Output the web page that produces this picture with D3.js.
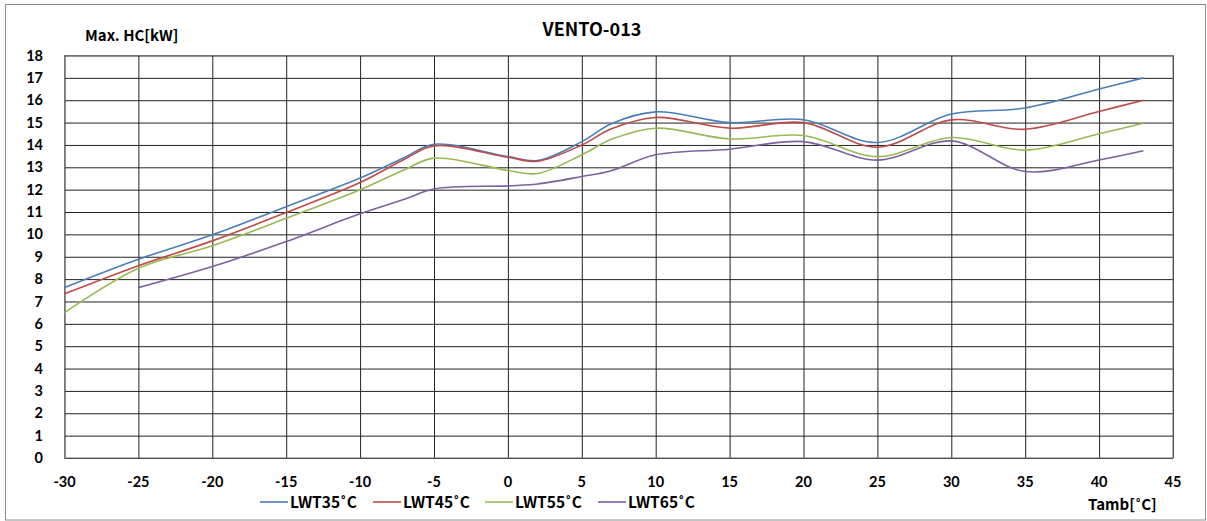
<!DOCTYPE html>
<html>
<head>
<meta charset="utf-8">
<script src="https://cdn.jsdelivr.net/npm/d3@7"></script>
<style>
  body { margin: 0; background: #fff; }
</style>
</head>
<body>
<div id="chart"></div>
<script>
const W = 1207, H = 521

// ambient temperature (x) and max heating capacity per leaving water temp
const tamb = [-30, -25, -20, -15, -10, -7, -5, 0, 2, 5, 7, 10, 15, 20, 25, 30, 35, 40, 43]
const lwt35 = [7.62, 8.89, 9.98, 11.24, 12.52, 13.44, 14.03, 13.48, 13.3, 14.15, 14.95, 15.48, 15.0, 15.13, 14.11, 15.38, 15.65, 16.5, 17.0]
const lwt45 = [7.34, 8.6, 9.71, 10.98, 12.32, 13.36, 13.96, 13.45, 13.27, 14.0, 14.72, 15.23, 14.75, 15.0, 13.9, 15.12, 14.7, 15.5, 16.0]
const lwt55 = [6.5, 8.49, 9.49, 10.72, 12.0, 12.89, 13.41, 12.86, 12.72, 13.56, 14.25, 14.75, 14.27, 14.42, 13.48, 14.33, 13.77, 14.5, 14.97]
const lwt65 = [null, 7.62, 8.56, 9.68, 10.92, 11.57, 12.03, 12.17, 12.25, 12.59, 12.85, 13.56, 13.81, 14.15, 13.32, 14.18, 12.81, 13.33, 13.74]

const seriesNames = ["LWT35˚C", "LWT45˚C", "LWT55˚C", "LWT65˚C"]
const seriesValues = [lwt35, lwt45, lwt55, lwt65]
const colors = ["#4a7ebb", "#be4b48", "#98b954", "#7d60a0"]

const xTicks = d3.range(-30, 46, 5)
const yTicks = d3.range(0, 19, 1)

const MARGIN = { top: 55.5, bot: 63, left: 64.5, right: 34 }

const svg = d3.select("#chart")
    .append("svg")
    .attr("width", W)
    .attr("height", H)

// outer frame
svg.append("rect")
    .attr("x", 5.5).attr("y", 4.5)
    .attr("width", 1200).attr("height", 515.5)
    .attr("fill", "#fff")
    .attr("stroke", "#8c8c8c")
    .attr("stroke-width", 1)

const x = d3.scaleLinear()
    .domain([-30, 45])
    .range([MARGIN.left, W - MARGIN.right])

const y = d3.scaleLinear()
    .domain([0, 18])
    .range([H - MARGIN.bot, MARGIN.top])

const gothic = "'Noto Sans CJK JP', 'DejaVu Sans', sans-serif"
const numFont = "Lato, 'Noto Sans', sans-serif"

// text with the degree ring drawn in a latin font so it stays narrow
function degText(sel, str) {
    const parts = str.split("˚")
    sel.append("tspan").text(parts[0])
    if (parts.length > 1) {
        sel.append("tspan").attr("font-family", "'DejaVu Sans'").attr("font-size", "0.85em").text("˚")
        sel.append("tspan").text(parts[1])
    }
}

// grid
svg.append("g")
    .attr("transform", `translate(0, ${y(0)})`)
    .call(d3.axisBottom(x).tickValues(xTicks).tickSize(-(y(0) - y(18))).tickFormat(""))
    .call(g => g.select(".domain").remove())
    .selectAll("line")
    .attr("stroke", "#222")

svg.append("g")
    .attr("transform", `translate(${x(-30)}, 0)`)
    .call(d3.axisLeft(y).tickValues(yTicks).tickSize(-(x(45) - x(-30))).tickFormat(""))
    .call(g => g.select(".domain").remove())
    .selectAll("line")
    .attr("stroke", "#222")

svg.append("rect")
    .attr("x", x(-30)).attr("y", y(18))
    .attr("width", x(45) - x(-30)).attr("height", y(0) - y(18))
    .attr("fill", "none")
    .attr("stroke", "#777")

// tick labels
svg.append("g")
    .selectAll("text")
    .data(yTicks)
    .join("text")
    .attr("x", 43)
    .attr("y", d => y(d))
    .attr("dy", "0.35em")
    .attr("text-anchor", "end")
    .attr("font-family", numFont)
    .attr("font-weight", "bold")
    .attr("font-size", 14.5)
    .text(d => d)

svg.append("g")
    .selectAll("text")
    .data(xTicks)
    .join("text")
    .attr("x", d => x(d))
    .attr("y", 487)
    .attr("text-anchor", "middle")
    .attr("font-family", numFont)
    .attr("font-weight", "bold")
    .attr("font-size", 14.5)
    .text(d => d)

// lines
const line = d3.line()
    .defined(d => d[1] != null)
    .x(d => x(d[0]))
    .y(d => y(d[1]))
    .curve(d3.curveCatmullRom.alpha(0.5))

seriesValues.forEach((vals, i) => {
    svg.append("path")
        .attr("d", line(tamb.map((t, j) => [t, vals[j]])))
        .attr("fill", "none")
        .attr("stroke", colors[i])
        .attr("stroke-width", 1.6)
})

// titles
svg.append("text")
    .attr("x", 592).attr("y", 36)
    .attr("text-anchor", "middle")
    .attr("font-family", gothic)
    .attr("font-weight", "bold")
    .attr("font-size", 18)
    .text("VENTO-013")

svg.append("text")
    .attr("x", 85).attr("y", 41)
    .attr("font-family", gothic)
    .attr("font-weight", "bold")
    .attr("font-size", 15)
    .text("Max. HC[kW]")

svg.append("text")
    .attr("x", 1088).attr("y", 510)
    .attr("font-family", gothic)
    .attr("font-weight", "bold")
    .attr("font-size", 15)
    .call(degText, "Tamb[˚C]")

// legend
const legendX = [260, 373, 485, 598]
const leg = svg.append("g")
    .selectAll("g")
    .data(seriesNames)
    .join("g")
    .attr("transform", (d, i) => `translate(${legendX[i]}, 502)`)

leg.append("line")
    .attr("x1", 0).attr("x2", 28)
    .attr("stroke", (d, i) => colors[i])
    .attr("stroke-width", 1.6)

leg.append("text")
    .attr("x", 30)
    .attr("dy", "0.36em")
    .attr("font-family", gothic)
    .attr("font-weight", "bold")
    .attr("font-size", 15.5)
    .each(function (d) { d3.select(this).call(degText, d) })
</script>
</body>
</html>
